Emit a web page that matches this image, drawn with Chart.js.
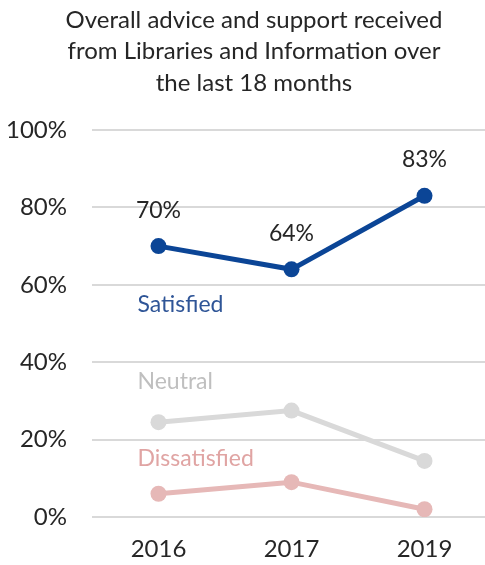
<!DOCTYPE html>
<html>
<head>
<meta charset="utf-8">
<script src="https://cdn.jsdelivr.net/npm/chart.js@4/dist/chart.umd.min.js"></script>
<style>
  html, body { margin: 0; padding: 0; background: #fff; overflow: hidden; }
  #wrap { width: 499px; height: 565px; }
</style>
</head>
<body>
<div id="wrap"><canvas id="myChart" width="499" height="565"></canvas></div>
<script>
const titleLines = [
  "Overall advice and support received",
  "from Libraries and Information over",
  "the last 18 months",
];
const years = ["2016", "2017", "2019"];
const satisfied = [70, 64, 83];
const neutral = [24.5, 27.5, 14.5];
const dissatisfied = [6, 9, 2];
const yTicks = [0, 20, 40, 60, 80, 100];

const fontFamily = "Lato, 'Open Sans', sans-serif";

// title, series names and value labels
const labelPlugin = {
  id: "seriesLabels",
  afterDatasetsDraw(chart) {
    const ctx = chart.ctx;
    const x = chart.scales.x;
    const y = chart.scales.y;
    ctx.save();
    ctx.textBaseline = "middle";

    ctx.font = "24px " + fontFamily;
    ctx.textAlign = "center";
    ctx.fillStyle = "#262626";
    titleLines.forEach(function (t, i) {
      ctx.fillText(t, 254, 20 + i * 31.5);
    });

    ctx.font = "23px " + fontFamily;
    satisfied.forEach(function (v, i) {
      ctx.fillText(v + "%", x.getPixelForValue(i), y.getPixelForValue(v) - 36);
    });

    ctx.textAlign = "left";
    const x0 = x.getPixelForValue(0) - 21;
    ctx.fillStyle = "#2F5597";
    ctx.fillText("Satisfied", x0, y.getPixelForValue(55));
    ctx.fillStyle = "#BFBFBF";
    ctx.fillText("Neutral", x0, y.getPixelForValue(35));
    ctx.fillStyle = "#E0A4A3";
    ctx.fillText("Dissatisfied", x0, y.getPixelForValue(15));
    ctx.restore();
  },
};

function makeSet(label, data, color) {
  return {
    label: label,
    data: data,
    borderColor: color,
    backgroundColor: color,
    borderWidth: 5,
    pointRadius: 8,
    pointHoverRadius: 8,
    pointBorderWidth: 0,
    tension: 0,
  };
}

const config = {
  type: "line",
  data: {
    labels: years,
    datasets: [
      makeSet("Satisfied", satisfied, "#0B4596"),
      makeSet("Neutral", neutral, "#D9D9D9"),
      makeSet("Dissatisfied", dissatisfied, "#E6B8B7"),
    ],
  },
  options: {
    responsive: false,
    animation: false,
    layout: { padding: { top: 130, right: 0, bottom: 0, left: 6 } },
    plugins: {
      legend: { display: false },
      tooltip: { enabled: false },
      title: { display: false },
    },
    scales: {
      x: {
        offset: true,
        grid: { display: false, drawTicks: false },
        border: { display: false },
        afterFit(axis) {
          axis.height = 48;
        },
        ticks: {
          color: "#262626",
          padding: 18,
          font: { family: fontFamily, size: 24 },
        },
      },
      y: {
        min: 0,
        max: 100,
        afterBuildTicks(axis) {
          axis.ticks = yTicks.map(function (v) { return { value: v }; });
        },
        afterFit(axis) {
          axis.width = 86;
        },
        grid: { color: "#D9D9D9", lineWidth: 2, drawTicks: false },
        border: { display: false },
        ticks: {
          color: "#262626",
          padding: 25,
          font: { family: fontFamily, size: 24 },
          callback: function (v) { return v + "%"; },
        },
      },
    },
  },
  plugins: [labelPlugin],
};

new Chart(document.getElementById("myChart"), config);
</script>
</body>
</html>
